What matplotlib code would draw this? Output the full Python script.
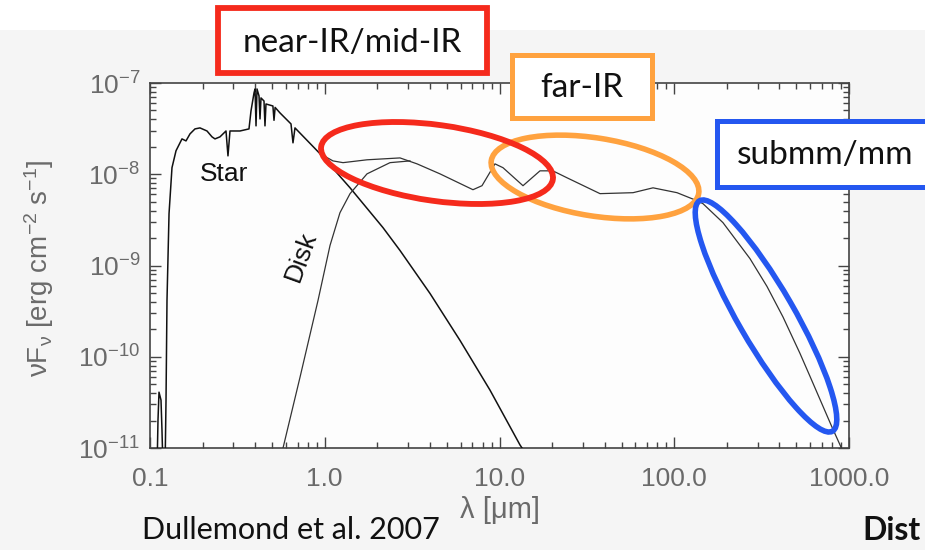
import matplotlib
matplotlib.use("Agg")
import matplotlib.pyplot as plt
from matplotlib.patches import Ellipse, Rectangle
from matplotlib.ticker import FixedLocator, LogLocator, NullFormatter

plt.rcParams["font.family"] = ["Liberation Sans", "DejaVu Sans"]
plt.rcParams["mathtext.fontset"] = "custom"
plt.rcParams["mathtext.rm"] = "Liberation Sans"
plt.rcParams["mathtext.it"] = "Liberation Sans:italic"
plt.rcParams["mathtext.bf"] = "Liberation Sans:bold"

# ---------------- data (wavelength in micron, nu F_nu in erg cm^-2 s^-1) ----------------
star_wl = [0.1097, 0.1111, 0.1126, 0.1156, 0.1171, 0.1187, 0.1219, 0.1235, 0.1251,
           0.1285, 0.1336, 0.1409, 0.1524, 0.1607, 0.1694, 0.1809, 0.1932, 0.2119,
           0.2263, 0.2354, 0.2515, 0.2722, 0.2794, 0.2869, 0.3273, 0.3685, 0.3784,
           0.3937, 0.3990, 0.4043, 0.4096, 0.4206, 0.4261, 0.4317, 0.4491, 0.4550,
           0.4610, 0.505, 0.5124, 0.520, 0.5545, 0.6410, 0.6580, 0.6756, 0.9393,
           1.395, 2.154, 2.696, 4.002, 5.943, 8.822, 13.10, 14.94]
star_flux = [5.75e-12, 2.02e-11, 4.09e-11, 3.35e-11, 1.57e-11, 5.75e-12, 5.75e-12,
             3.35e-11, 4.14e-10, 3.70e-9, 1.18e-8, 1.81e-8, 2.44e-8, 2.32e-8, 2.77e-8,
             3.14e-8, 3.22e-8, 2.98e-8, 2.57e-8, 2.44e-8, 2.57e-8, 2.98e-8, 1.59e-8,
             2.98e-8, 2.98e-8, 3.14e-8, 4.94e-8, 7.78e-8, 8.60e-8, 3.39e-8, 8.60e-8,
             7.21e-8, 4.04e-8, 6.86e-8, 6.35e-8, 3.39e-8, 5.89e-8, 5.6e-8, 3.9e-8,
             5.4e-8, 4.70e-8, 3.56e-8, 2.21e-8, 3.22e-8, 1.68e-8, 7.11e-9, 2.60e-9,
             1.46e-9, 4.94e-10, 1.51e-10, 4.31e-11, 1.08e-11, 7.4e-12]

disk_wl = [0.5618, 0.577, 0.722, 0.915, 1.072, 1.222, 1.395, 1.745, 2.363, 3.074]
disk_flux = [7.4e-12, 1.0e-11, 5.97e-11, 4.14e-10, 1.66e-9, 3.79e-9, 6.12e-9,
             1.01e-8, 1.34e-8, 1.40e-8]

total_wl = [0.9393, 1.115, 1.272, 1.745, 2.696, 3.373, 4.565, 7.05, 7.94, 9.42,
            10.47, 13.63, 17.05, 20.2, 24.3, 37.6, 58.1, 75.6, 103.7, 134.9, 146.0,
            190.0, 271.2, 339.3, 419.0, 524.0, 597.7, 798.6, 948.0]
total_flux = [1.68e-8, 1.40e-8, 1.34e-8, 1.44e-8, 1.51e-8, 1.30e-8, 1.01e-8, 6.77e-9,
              7.49e-9, 1.30e-8, 1.18e-8, 7.49e-9, 1.09e-8, 1.09e-8, 9.16e-9, 6.13e-9,
              6.28e-9, 7.10e-9, 6.28e-9, 5.13e-9, 4.76e-9, 2.95e-9, 1.19e-9, 5.90e-10,
              2.73e-10, 1.09e-10, 6.12e-11, 1.70e-11, 8.2e-12]

x_ticks = [0.1, 1.0, 10.0, 100.0, 1000.0]
x_tick_labels = ["0.1", "1.0", "10.0", "100.0", "1000.0"]
y_ticks = [1e-11, 1e-10, 1e-9, 1e-8, 1e-7]
y_tick_labels = [r"$10^{-11}$", r"$10^{-10}$", r"$10^{-9}$", r"$10^{-8}$", r"$10^{-7}$"]

W, H = 925, 550
fig = plt.figure(figsize=(W / 100, H / 100), dpi=100, facecolor="#f5f5f5")

# ---------------- SED panel ----------------
ax = fig.add_axes([150 / W, 1 - 448 / H, (849 - 150) / W, (448 - 83) / H])
ax.set_facecolor("#fdfdfd")
ax.set_xscale("log")
ax.set_yscale("log")
ax.set_xlim(0.1, 1000)
ax.set_ylim(1e-11, 1e-7)

ax.plot(star_wl, star_flux, color="#111111", lw=1.1, zorder=3)
ax.plot(disk_wl, disk_flux, color="#333333", lw=0.9, zorder=3)
ax.plot(total_wl, total_flux, color="#333333", lw=0.9, zorder=3)

ax.text(0.265, 1.01e-8, "Star", fontsize=19, ha="center", va="center", color="#111111")
ax.text(0.73, 1.25e-9, "Disk", fontsize=19, ha="center", va="center", rotation=70,
        color="#111111")

ax.xaxis.set_major_locator(FixedLocator(x_ticks))
ax.set_xticklabels(x_tick_labels)
ax.yaxis.set_major_locator(FixedLocator(y_ticks))
ax.set_yticklabels(y_tick_labels)
ax.xaxis.set_minor_locator(LogLocator(base=10, subs=range(2, 10)))
ax.yaxis.set_minor_locator(LogLocator(base=10, subs=range(2, 10)))
ax.xaxis.set_minor_formatter(NullFormatter())
ax.yaxis.set_minor_formatter(NullFormatter())
ax.tick_params(which="both", direction="in", top=True, right=True, color="#444444",
               width=1.0)
ax.tick_params(which="major", length=8, labelsize=19, labelcolor="#6a6a6a")
ax.tick_params(which="minor", length=4.5)
ax.tick_params(axis="x", which="major", pad=14)
ax.tick_params(axis="y", which="major", pad=7)
for sp in ax.spines.values():
    sp.set_color("#444444")
    sp.set_linewidth(1.2)

ax.set_xlabel("λ [μm]", fontsize=21, color="#6a6a6a")
ax.xaxis.set_label_coords(0.5, (448 - 496) / 365)
ax.set_ylabel(r"$\mathrm{\nu F_\nu}$ [erg cm$^{-2}$ s$^{-1}$]", fontsize=20,
              color="#6a6a6a")
ax.yaxis.set_label_coords((56 - 150) / 699, (448 - 268) / 365)

# ---------------- overlay for callouts (pixel space) ----------------
ov = fig.add_axes([0, 0, 1, 1], zorder=10)
ov.set_xlim(0, W)
ov.set_ylim(H, 0)
ov.axis("off")
ov.patch.set_alpha(0)

RED = "#f52a1c"
ORANGE = "#ffa23f"
BLUE = "#2457f0"

ov.add_patch(Rectangle((0, 0), W, 30, facecolor="white", edgecolor="none", zorder=0))

ov.add_patch(Ellipse((595, 177), 210, 78, angle=9, fill=False, edgecolor=ORANGE, lw=4))
ov.add_patch(Ellipse((437, 163), 234, 76, angle=8, fill=False, edgecolor=RED, lw=4.2))
ov.add_patch(Ellipse((766, 316), 266, 56, angle=60, fill=False, edgecolor=BLUE, lw=4))

ov.add_patch(Rectangle((218, 8), 269, 65, facecolor="white", edgecolor=RED, lw=4.2))
ov.add_patch(Rectangle((512, 55), 140, 63, facecolor="white", edgecolor=ORANGE, lw=3.6))
ov.add_patch(Rectangle((717, 121), 230, 66, facecolor="white", edgecolor=BLUE, lw=3.6))

slide_font = ["Lato", "DejaVu Sans"]
ov.text(352, 43, "near-IR/mid-IR", fontsize=24, ha="center", va="center",
        family=slide_font, color="#111111")
ov.text(582, 88, "far-IR", fontsize=24, ha="center", va="center",
        family=slide_font, color="#111111")
ov.text(825, 155, "submm/mm", fontsize=24, ha="center", va="center",
        family=slide_font, color="#111111")
ov.text(142, 530, "Dullemond et al. 2007", fontsize=22, ha="left", va="center",
        family=slide_font, color="#111111")
ov.text(862, 530, "Dist", fontsize=23, ha="left", va="center", fontweight="bold",
        family=slide_font, color="#111111")

fig.savefig("out.png", dpi=100, facecolor=fig.get_facecolor())
